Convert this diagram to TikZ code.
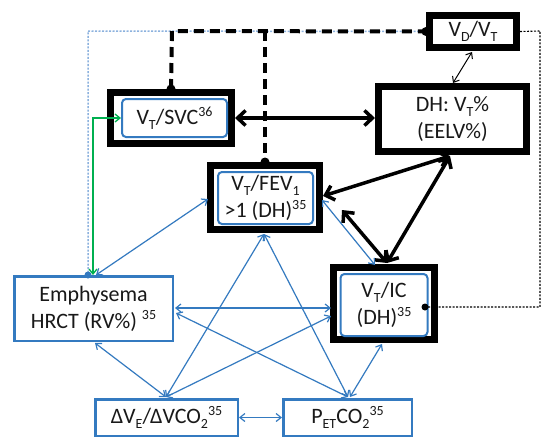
\documentclass[tikz,border=0pt]{standalone}
\usepackage{fontspec}
\setmainfont{Carlito}
\usetikzlibrary{arrows.meta}
\definecolor{bl}{RGB}{52,122,192}
\definecolor{gr}{RGB}{0,176,80}
\definecolor{lbl}{RGB}{140,178,222}
\definecolor{tx}{RGB}{25,25,25}
\newcommand{\mysub}[1]{\raisebox{-0.22em}{\fontsize{14}{14}\selectfont #1}}
\newcommand{\mysup}[1]{\raisebox{0.38em}{\fontsize{14}{14}\selectfont #1}}
\begin{document}
\begin{tikzpicture}[x=1pt,y=-1pt,
  txt/.style={font=\fontsize{22}{27}\selectfont, align=center, inner sep=0pt, text=tx},
  thickbox/.style={txt, draw=black, line width=7pt, fill=white},
  bluebox/.style={txt, draw=bl, line width=2.5pt, fill=white},
  innerbox/.style={draw=bl, line width=2pt, rounded corners=4pt},
  bluearr/.style={draw=bl, line width=1.2pt, {Straight Barb[length=5pt,width=8pt]}-{Straight Barb[length=5pt,width=8pt]}},
  blackarr/.style={draw=black, line width=3.5pt, {Straight Barb[length=8pt,width=15pt]}-{Straight Barb[length=8pt,width=15pt]}},
  thinarr/.style={draw=black, line width=1pt, {Straight Barb[length=5pt,width=8pt]}-{Straight Barb[length=5pt,width=8pt]}},
  greenarr/.style={draw=gr, line width=1.3pt, {Straight Barb[length=5pt,width=8pt]}-{Straight Barb[length=5pt,width=8pt]}},
  bigdash/.style={draw=black, line width=4pt, dash pattern=on 10pt off 6pt},
  bluedot/.style={draw=lbl, line width=1.5pt, dash pattern=on 2pt off 1.5pt},
  blackdot/.style={draw=black, line width=1.1pt, dash pattern=on 2pt off 1.5pt}
]
\useasboundingbox (0,0) rectangle (550,447);
\fill[white] (0,0) rectangle (550,447);

% boxes
\node[thickbox, minimum width=87pt, minimum height=32pt] (vdvt) at (473,31.5) {V\mysub{D}/V\mysub{T}};
\node[thickbox, minimum width=148pt, minimum height=65pt] (dh) at (452.5,119) {DH: V\mysub{T}\%\\(EELV\%)};
\node[thickbox, minimum width=121pt, minimum height=51pt] (svc) at (171,118) {};
\node[innerbox, minimum width=105pt, minimum height=38pt, txt] (svci) at (174.5,118) {V\mysub{T}/SVC\mysup{36}};
\node[thickbox, minimum width=109pt, minimum height=64pt] (fev) at (265,197.5) {};
\node[innerbox, minimum width=95pt, minimum height=52pt, txt] (fevi) at (265.5,198) {V\mysub{T}/FEV\mysub{1}\\>1 (DH)\mysup{35}};
\node[thickbox, minimum width=101pt, minimum height=72pt] (ic) at (384,303.5) {};
\node[innerbox, minimum width=87pt, minimum height=62pt, txt] (ici) at (384,305) {V\mysub{T}/IC\\(DH)\mysup{35}};
\node[bluebox, minimum width=158.5pt, minimum height=64.5pt] (emph) at (93.5,308.5) {Emphysema\\HRCT (RV\%) \mysup{35}};
\node[bluebox, minimum width=142.5pt, minimum height=36.5pt] (dve) at (166.5,417.5) {ΔV\mysub{E}/ΔVCO\mysub{2}\mysup{35}};
\node[bluebox, minimum width=128.5pt, minimum height=36.5pt] (pet) at (347.5,417.5) {P\mysub{ET}CO\mysub{2}\mysup{35}};

% junction coordinates
\coordinate (j1) at (172,31);
\coordinate (j2) at (265,31);
\coordinate (jb) at (88,31);
\coordinate (emphT) at (88,275);
\coordinate (jr1) at (540,31);
\coordinate (jr2) at (540,307);
\coordinate (icE) at (425,307);
\coordinate (emphG) at (93,275);

% dotted / dashed links
\draw[bluedot] (vdvt.west) -- (jb) -- (emphT);
\fill[bl] (emphT) circle (3.5pt);
\draw[bigdash] (svc.north) -- (j1) -- (vdvt.west);
\draw[bigdash] (j2) -- (fev.north);
\fill (svc.north) circle (4.5pt);
\fill (fev.north) circle (4.5pt);
\fill (vdvt.west) circle (4.5pt);
\draw[blackdot] (vdvt.east) -- (jr1) -- (jr2) -- (icE);
\fill (icE) circle (3.5pt);

% green
\draw[greenarr] (emphG) |- (svci.west);

% thin black
\coordinate (vdS) at (472,52);
\coordinate (dhN) at (453,83);
\draw[thinarr] (vdS) -- (dhN);

% thick black arrows
\coordinate (dhB) at (450,156);
\coordinate (fevR) at (323,196);
\coordinate (fevRL) at (342,210);
\coordinate (icT) at (387,263);
\draw[blackarr] (svc.east) -- (svc.east -| dh.west);
\draw[blackarr] (fevR) -- (dhB);
\draw[blackarr] (fevRL) -- (icT);
\draw[blackarr] (icT) -- (dhB);

% blue arrows
\coordinate (emA) at (96,275);
\coordinate (fevL) at (208,199);
\coordinate (emR) at (175,308);
\coordinate (icL) at (331,308);
\coordinate (emR2) at (176,313);
\coordinate (petT) at (348,397);
\coordinate (emB) at (95,343);
\coordinate (dveT) at (166,397);
\coordinate (fevB) at (264,234);
\coordinate (icL2) at (331,316);
\coordinate (fevR2) at (322,200);
\coordinate (icT2) at (375,265);
\coordinate (icB) at (382,344);
\coordinate (petT2) at (350,397);
\draw[bluearr] (emA) -- (fevL);
\draw[bluearr] (emR) -- (icL);
\draw[bluearr] (emR2) -- (petT);
\draw[bluearr] (emB) -- (dveT);
\draw[bluearr] (dveT) -- (fevB);
\draw[bluearr] (dveT) -- (icL2);
\draw[bluearr] (fevB) -- (petT);
\draw[bluearr] (fevR2) -- (icT2);
\draw[bluearr] (icB) -- (petT2);
\draw[bluearr] (dve.east) -- (pet.west);
\end{tikzpicture}
\end{document}
